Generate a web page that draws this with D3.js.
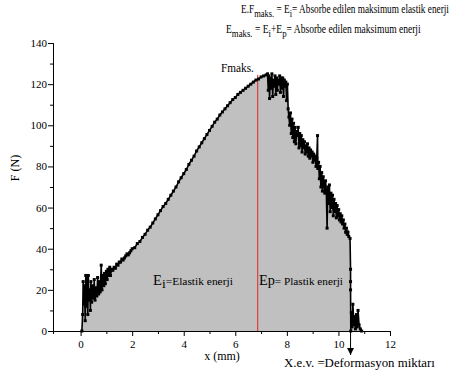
<!DOCTYPE html>
<head>
  <meta charset="utf-8">
  <title>F - x</title>
  <style>
    body { margin: 0; background: #fff; }
  </style>
</head>
<body>
<svg width="452" height="379"></svg>
<script src="https://d3js.org/d3.v7.min.js"></script>
<script>

var serif = "'Liberation Serif', 'Times New Roman', serif";

// deformation x (mm) and force F (N)
var xStart = [0.05,0.08,0.1,0.12,0.15,0.18,0.2,0.22,0.25,0.28,0.3,0.33,0.36,0.38,0.4,0.43,0.46,0.5,0.53,0.56,
  0.6,0.63,0.66,0.7,0.73,0.76,0.8,0.83,0.86,0.9,0.93,0.96,1.0,1.03,1.06,1.1,1.13,1.16,1.2];
var fStart = [0,8,24,13,22,5,27,12,26,8,27,15,20,10,24,14,22,16,25,15,
  21,17,26,18,24,19,32,20,27,22,28,23,29,25,30,27,31,27,30];

var xRise = [1.25,1.3,1.35,1.4,1.45,1.5,1.55,1.6,1.65,1.7,1.75,1.8,1.85,1.9,1.95,2.0,2.1,2.2,2.3,2.4,2.5,2.6,2.7,2.8,2.9,3.0,3.1,3.2,3.3,3.4,3.5,
  3.6,3.7,3.8,3.9,4.0,4.1,4.2,4.3,4.4,4.5,4.6,4.7,4.8,4.9,5.0,5.1,5.2,5.3,5.4,5.5,5.6,5.7,5.8,5.9,6.0,
  6.1,6.2,6.3,6.4,6.5,6.6,6.7,6.8,6.9,7.0,7.1,7.2,7.25];
var fRise = [29.5,31,30.5,32.5,32,33.5,33.5,35,34.5,35.5,36.5,37.5,37,38,39,40,40.5,42.5,43.5,45.5,47,49,50.5,52.5,54.5,56.5,58.5,60.5,62,64,66,
  68,70,72.5,74.5,76.5,78.5,81,83,85,87.5,89.5,91.5,93.5,95.5,97.5,99.5,101.5,103,105,106.5,108,109.5,111,112.5,113.5,
  115,116,117,118,119,120,121,122,122.5,123.5,124,124.5,125];

var xFall = [7.28,7.3,7.33,7.36,7.39,7.42,7.45,7.48,7.51,7.54,7.57,7.6,7.63,7.66,7.69,7.72,7.75,7.78,7.81,7.84,
  7.87,7.9,7.93,7.96,7.99,8.02,8.05,8.08,8.11,8.14,8.17,8.2,8.23,8.26,8.29,8.32,8.35,8.38,8.41,8.44,8.47,8.5,
  8.53,8.56,8.59,8.62,8.65,8.68,8.71,8.74,8.77,8.8,8.83,8.86,8.89,8.92,8.95,8.98,9.01,9.04,9.07,9.1,9.13,9.16,
  9.19,9.2,9.23,9.26,9.29,9.32,9.35,9.38,9.41,9.44,9.47,9.5,9.53,9.56,9.59,9.62,9.65,9.68,9.71,9.74,9.77,9.8,
  9.83,9.86,9.89,9.92,9.95,9.98,10.01,10.04,10.07,10.1,10.13,10.16,10.19,10.22,10.25,10.28,10.31,10.34,10.37,
  10.4,10.45,10.47,10.47,10.47,10.48,10.5,10.53,10.56,10.6,10.63,10.66,10.7,10.73,10.76,10.8,10.85,10.9];
var fFall = [117,124,113,123,118,125,114,122,119,124,115,123,117,122,120,124,116,123,118,123,
  114,122,119,121,112,120,108,104,100,106,96,103,94,101,92,99,91,97,95,99,89,96,
  90,95,87,93,89,92,86,90,87,91,85,89,84,88,85,87,82,86,83,85,80,84,
  95,79,82,74,80,70,77,68,75,72,67,73,68,50,70,62,71,58,67,60,66,56,
  64,58,62,55,61,56,59,54,57,53,56,52,54,50,52,48,50,47,48,
  46,45,30,24,20,0,9,2,13,3,7,1,8,2,10,3,1,0];

var xTicks = [0, 2, 4, 6, 8, 10, 12];
var xMinor = [1, 3, 5, 7, 9, 11];
var yTicks = [0, 20, 40, 60, 80, 100, 120, 140];
var yMinor = [10, 30, 50, 70, 90, 110, 130];
var xPeak = 6.87;   // F maks.
var xBreak = 10.47; // X.e.v.

var data = xStart.concat(xRise, xFall).map(function(d, i) {
  return { x: d, f: fStart.concat(fRise, fFall)[i] };
});

var svg = d3.select("svg").attr("font-family", serif);

var x = d3.scaleLinear().domain([-1.07, 12]).range([53, 390]);
var y = d3.scaleLinear().domain([0, 140]).range([331, 43]);

// grey area under the curve
var area = d3.area()
    .x(function(d) { return x(d.x); })
    .y0(y(0))
    .y1(function(d) { return y(d.f); });

svg.append("path")
    .datum(data)
    .attr("fill", "#c0c0c0")
    .attr("d", area);

// red line at F maks.
var peakF = d3.max(fRise);
svg.append("line")
    .attr("x1", x(xPeak)).attr("x2", x(xPeak))
    .attr("y1", y(0)).attr("y2", y(peakF) + 1)
    .attr("stroke", "#e8202a")
    .attr("stroke-width", 1);

// curve with square markers
var line = d3.line()
    .x(function(d) { return x(d.x); })
    .y(function(d) { return y(d.f); });

svg.append("path")
    .datum(data)
    .attr("fill", "none")
    .attr("stroke", "#000")
    .attr("stroke-width", 1.6)
    .attr("d", line);

svg.append("g")
  .selectAll("rect")
  .data(data)
  .enter().append("rect")
    .attr("x", function(d) { return x(d.x) - 1.5; })
    .attr("y", function(d) { return y(d.f) - 1.5; })
    .attr("width", 3)
    .attr("height", 3)
    .attr("fill", "#000");

// axes
function styleAxis(g) {
  g.attr("font-family", serif).attr("font-size", 11);
  g.select(".domain").attr("stroke", "#000").attr("stroke-width", 1);
  g.selectAll(".tick line").attr("stroke", "#000");
  g.selectAll(".tick text").attr("fill", "#000");
}

svg.append("g")
    .attr("transform", "translate(0," + y(0) + ")")
    .call(d3.axisBottom(x).tickValues(xMinor).tickSize(3).tickFormat(""))
    .call(styleAxis);

svg.append("g")
    .attr("transform", "translate(0," + y(0) + ")")
    .call(d3.axisBottom(x).tickValues(xTicks).tickSize(5).tickPadding(4).tickSizeOuter(0))
    .call(styleAxis);

svg.append("g")
    .attr("transform", "translate(" + x(-1.07) + ",0)")
    .call(d3.axisLeft(y).tickValues(yMinor).tickSize(3).tickFormat(""))
    .call(styleAxis);

svg.append("g")
    .attr("transform", "translate(" + x(-1.07) + ",0)")
    .call(d3.axisLeft(y).tickValues(yTicks).tickSize(5).tickPadding(1).tickSizeOuter(0))
    .call(styleAxis);

// text squeezed to a given width, like the narrow type of the original
function fitted(px, py, width, size) {
  var g = svg.append("g");
  var t = g.append("text").attr("font-size", size);
  return { text: t, done: function() {
    var w = t.node().getComputedTextLength();
    g.attr("transform", "translate(" + px + "," + py + ") scale(" + (width / w) + ",1)");
  }};
}

// axis titles
svg.append("text")
    .attr("x", 222).attr("y", 360)
    .attr("text-anchor", "middle")
    .attr("font-size", 12)
    .text("x (mm)");

svg.append("text")
    .attr("transform", "translate(19,168) rotate(-90)")
    .attr("text-anchor", "middle")
    .attr("font-size", 12)
    .text("F  (N)");

// arrow at the break point
svg.append("defs").append("marker")
    .attr("id", "head")
    .attr("viewBox", "0 0 10 10")
    .attr("refX", 10).attr("refY", 5)
    .attr("markerWidth", 7).attr("markerHeight", 7)
    .attr("orient", "auto")
  .append("path")
    .attr("d", "M0,0L10,5L0,10z")
    .attr("fill", "#000");

svg.append("line")
    .attr("x1", x(xBreak)).attr("x2", x(xBreak))
    .attr("y1", y(0)).attr("y2", y(0) + 24)
    .attr("stroke", "#000")
    .attr("stroke-width", 1)
    .attr("marker-end", "url(#head)");

var xev = fitted(284, 367, 151, 13);
xev.text.text("X.e.v. =Deformasyon miktarı");
xev.done();

// labels inside
var fm = fitted(221, 72, 33, 12);
fm.text.text("Fmaks.");
fm.done();

var ei = fitted(153, 285, 80, 11);
ei.text.append("tspan").attr("font-size", 14).text("E");
ei.text.append("tspan").attr("dy", 3).attr("font-size", 13).text("i");
ei.text.append("tspan").attr("dy", -3).text("=Elastik enerji");
ei.done();

var ep = fitted(259, 285, 84, 11);
ep.text.append("tspan").attr("font-size", 14).text("Ep");
ep.text.append("tspan").text("= Plastik enerji");
ep.done();

// top notes
var t1 = fitted(241, 13, 208, 12);
t1.text.append("tspan").text("E.F");
t1.text.append("tspan").attr("dy", 4).attr("font-size", 11).text("maks.");
t1.text.append("tspan").attr("dy", -4).text(" = E");
t1.text.append("tspan").attr("dy", 4).attr("font-size", 11).text("i");
t1.text.append("tspan").attr("dy", -4).text("= Absorbe edilen   maksimum elastik enerji");
t1.done();

var t2 = fitted(226, 33, 195, 12);
t2.text.append("tspan").text("E");
t2.text.append("tspan").attr("dy", 4).attr("font-size", 11).text("maks.");
t2.text.append("tspan").attr("dy", -4).text(" = E");
t2.text.append("tspan").attr("dy", 4).attr("font-size", 11).text("i");
t2.text.append("tspan").attr("dy", -4).text("+E");
t2.text.append("tspan").attr("dy", 4).attr("font-size", 11).text("p");
t2.text.append("tspan").attr("dy", -4).text("= Absorbe edilen  maksimum enerji");
t2.done();

</script>
</body>
</html>
